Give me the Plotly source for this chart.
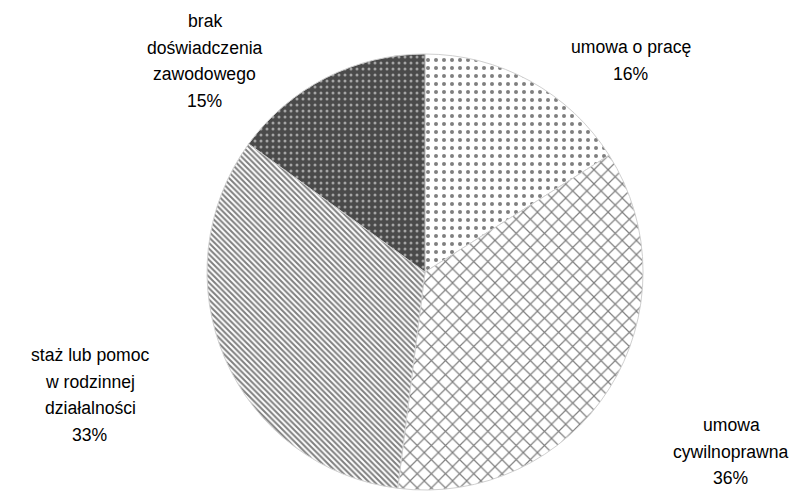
import plotly.graph_objects as go

labels = ["umowa o pracę", "umowa cywilnoprawna", "staż lub pomoc w rodzinnej działalności",
          "brak doświadczenia zawodowego"]
values = [16, 36, 33, 15]
label_lines = [
    ["umowa o pracę", "16%"],
    ["umowa", "cywilnoprawna", "36%"],
    ["staż lub pomoc", "w rodzinnej", "działalności", "33%"],
    ["brak", "doświadczenia", "zawodowego", "15%"],
]
# label centres in pixels (x centre, y of first line)
label_pos = [(631, 47), (731, 425), (90, 355), (205, 21)]

W, H = 805, 491

fig = go.Figure(go.Pie(
    labels=labels, values=values,
    sort=False, direction="clockwise", rotation=0,
    textinfo="none", hoverinfo="label+percent",
    domain=dict(x=[0.2, 0.856], y=[0.002, 0.890]),
    marker=dict(
        colors=["white"] * 4,
        line=dict(color="#d0d0d0", width=1),
        pattern=dict(
            shape=[".", "x", "\\", "."],
            size=[8, 10, 4, 6],
            solidity=[0.2, 0.22, 0.5, 0.2],
            fgcolor=["black", "black", "black", "white"],
            bgcolor=["white", "white", "white", "#4a4a4a"],
            fillmode="overlay",
        ),
    ),
))

annotations = []
for lines, (cx, y0) in zip(label_lines, label_pos):
    for i, line in enumerate(lines):
        y = y0 + i * 26.7
        annotations.append(dict(
            text=line, x=cx / W, y=1 - y / H, xref="paper", yref="paper",
            xanchor="center", yanchor="middle", showarrow=False,
            font=dict(family="Liberation Sans, Arial, sans-serif", size=17.6, color="black"),
        ))

fig.update_layout(
    width=W, height=H,
    margin=dict(l=0, r=0, t=0, b=0),
    paper_bgcolor="white", plot_bgcolor="white",
    showlegend=False,
    annotations=annotations,
)
fig.write_html("out.html", config={"displayModeBar": False},
               post_script="document.body.style.margin='0';")
